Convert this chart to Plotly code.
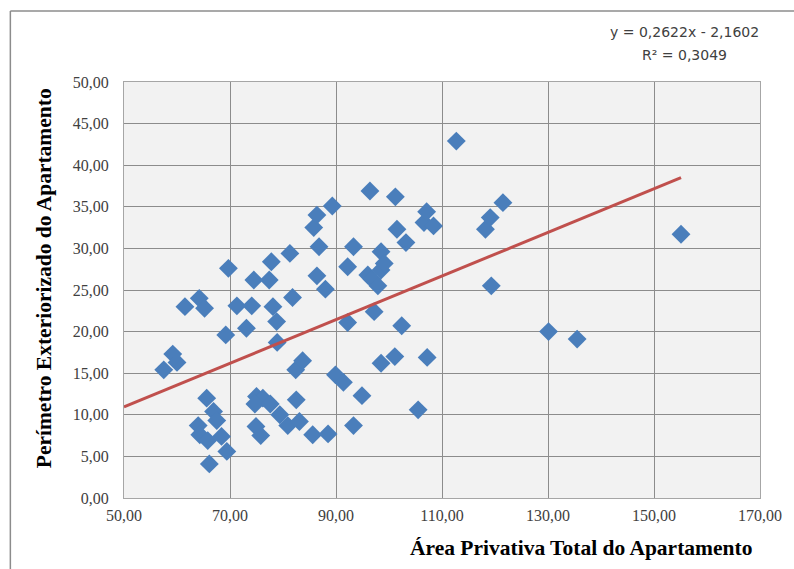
import plotly.graph_objects as go

# Área privativa total (m²) and perímetro exteriorizado (m) of each apartment
area = [57.5, 59.2, 60.0, 61.5, 64.2, 65.2, 64.0, 64.3, 65.8, 65.6,
        66.1, 66.9, 67.5, 68.4, 69.4, 69.2, 69.7, 71.3, 73.1, 74.1,
        74.5, 74.9, 75.0, 76.2, 74.7, 75.8, 77.4, 77.6, 77.8, 78.1,
        78.8, 78.9, 79.4, 80.9, 81.3, 81.8, 82.4, 82.5, 83.1, 83.7,
        85.6, 85.8, 86.4, 86.4, 86.8, 88.0, 88.5, 89.3, 89.9, 91.4,
        92.2, 92.2, 93.3, 93.3, 94.9, 96.0, 96.4, 96.8, 97.2, 97.9,
        98.5, 98.5, 98.5, 99.1, 101.1, 101.2, 101.5, 102.4, 103.2, 105.5,
        106.6, 107.1, 107.2, 108.4, 112.7, 118.2, 119.1, 119.3, 121.5, 130.1,
        135.5, 155.1]
perimetro = [15.4, 17.3, 16.3, 23.0, 24.0, 22.8, 8.7, 7.6, 6.9, 12.0,
             4.1, 10.4, 9.3, 7.4, 5.6, 19.6, 27.6, 23.1, 20.4, 23.1,
             26.2, 8.6, 12.2, 12.0, 11.3, 7.5, 26.2, 11.3, 28.4, 23.0,
             21.2, 18.7, 10.0, 8.7, 29.4, 24.1, 15.4, 11.8, 9.2, 16.5,
             7.6, 32.5, 34.0, 26.7, 30.2, 25.1, 7.7, 35.1, 14.8, 13.9,
             27.8, 21.1, 30.2, 8.7, 12.3, 26.8, 36.9, 26.3, 22.4, 25.5,
             29.6, 27.4, 16.2, 28.2, 17.0, 36.2, 32.3, 20.7, 30.7, 10.6,
             33.1, 34.4, 16.9, 32.7, 42.9, 32.3, 33.7, 25.5, 35.5, 20.0,
             19.1, 31.7]

# Linear trendline coefficients
slope = 0.2622
intercept = -2.1602
r2 = 0.3049

x_ticks = [50, 70, 90, 110, 130, 150, 170]
y_ticks = [0, 5, 10, 15, 20, 25, 30, 35, 40, 45, 50]


def fmt(v, nd=2):
    return f"{v:.{nd}f}".replace(".", ",")


trend_x = [50, max(area)]
trend_y = [slope * v + intercept for v in trend_x]

fig = go.Figure()
fig.add_trace(go.Scatter(
    x=area, y=perimetro, mode="markers",
    marker=dict(symbol="diamond", size=14.5, color="#4a7ebb",
                line=dict(width=0)),
    showlegend=False, cliponaxis=False))
fig.add_trace(go.Scatter(
    x=trend_x, y=trend_y, mode="lines",
    line=dict(color="#c0504d", width=3),
    showlegend=False))

serif = "Liberation Serif, Times New Roman, serif"
sans = "DejaVu Sans, Liberation Sans, sans-serif"
axis_common = dict(showgrid=True, gridcolor="#8c8c8c", gridwidth=1,
                   showline=True, linecolor="#a6a6a6", linewidth=1, mirror=True,
                   zeroline=False, ticks="",
                   tickfont=dict(family=serif, size=16, color="#404040"))

fig.update_xaxes(range=[50, 170], tickvals=x_ticks,
                 ticktext=[fmt(v) for v in x_ticks], ticklabelstandoff=3,
                 **axis_common)
fig.update_yaxes(range=[0, 50], tickvals=y_ticks,
                 ticktext=[fmt(v) for v in y_ticks], ticklabelstandoff=11,
                 **axis_common)

# pixel -> paper helpers (plot area spans 124..762 horizontally, 82..498 vertically)
L, T, W, H = 124, 82, 638, 416


def px(x):
    return (x - L) / W


def py(y):
    return (T + H - y) / H


eq_text = f"y = {fmt(slope, 4)}x - {fmt(-intercept, 4)}"
r2_text = f"R² = {fmt(r2, 4)}"

fig.update_layout(
    width=794, height=569,
    margin=dict(l=L, r=794 - L - W, t=T, b=569 - T - H),
    paper_bgcolor="white", plot_bgcolor="#f2f2f2",
    annotations=[
        dict(text=eq_text, xref="paper", yref="paper", x=px(686), y=py(32),
             xanchor="center", yanchor="middle", showarrow=False,
             font=dict(family=sans, size=14, color="#404040")),
        dict(text=r2_text, xref="paper", yref="paper", x=px(686), y=py(55),
             xanchor="center", yanchor="middle", showarrow=False,
             font=dict(family=sans, size=14, color="#404040")),
        dict(text="<b>Perímetro Exteriorizado do Apartamento</b>",
             xref="paper", yref="paper", x=px(44), y=py(278),
             xanchor="center", yanchor="middle", textangle=-90, showarrow=False,
             font=dict(family=serif, size=21.5, color="black")),
        dict(text="<b>Área Privativa Total do Apartamento</b>",
             xref="paper", yref="paper", x=px(756), y=py(548),
             xanchor="right", yanchor="middle", showarrow=False,
             font=dict(family=serif, size=21.5, color="black")),
    ],
    shapes=[
        dict(type="line", xref="paper", yref="paper",
             x0=px(10), x1=px(10), y0=py(11), y1=py(600),
             line=dict(color="#8c8c8c", width=1.5)),
        dict(type="line", xref="paper", yref="paper",
             x0=px(10), x1=px(820), y0=py(11), y1=py(11),
             line=dict(color="#8c8c8c", width=1.5)),
    ],
)

fig.write_html("out.html")
